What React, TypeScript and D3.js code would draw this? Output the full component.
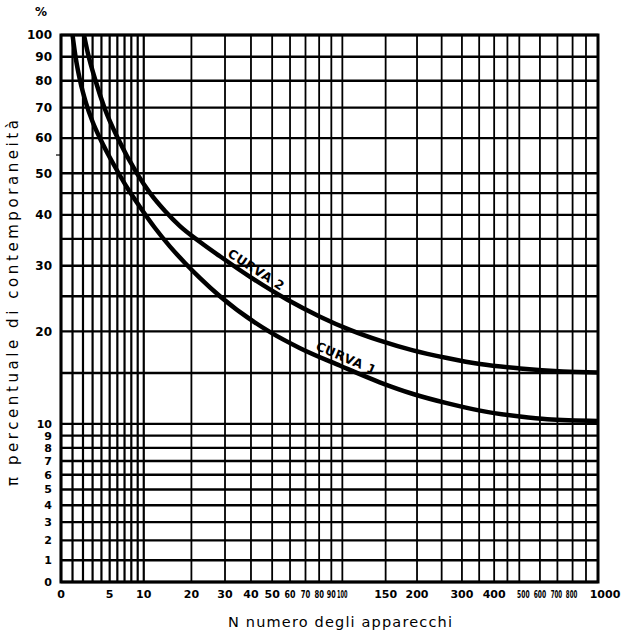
import React from 'react';
import * as d3 from 'd3';

// ---- data ----
const xGrid = [0, 1, 2, 3, 4, 5, 6, 7, 8, 9, 10, 20, 30, 40, 50, 60, 70, 80, 90, 100, 150, 200, 250, 300, 350, 400, 450, 500, 600, 700, 800, 900, 1000];
const yGrid = [0, 1, 2, 3, 4, 5, 6, 7, 8, 9, 10, 15, 20, 25, 30, 35, 40, 45, 50, 60, 70, 80, 90, 100];
const xTickLabels = [0, 5, 10, 20, 30, 40, 50, 60, 70, 80, 90, 100, 150, 200, 300, 400, 500, 600, 700, 800, 1000];
const yTickLabels = [0, 1, 2, 3, 4, 5, 6, 7, 8, 9, 10, 20, 30, 40, 50, 60, 70, 80, 90, 100];

const curve1N = [1, 1.3, 1.7, 2.3, 3, 3.8, 4.8, 6, 7.5, 9.4, 12, 15, 18.4, 22.3, 28.3, 49, 66, 98, 142, 193, 262, 353, 503, 640, 1000];
const curve1V = [100, 89.4, 80.3, 71.7, 65.2, 60.1, 55.2, 50.6, 46, 41.7, 37.2, 33.5, 30.5, 27.9, 25, 19.9, 17.9, 15.8, 14, 12.8, 11.9, 11.2, 10.65, 10.4, 10.25];
const curve2N = [2.1, 2.5, 3.3, 4.4, 6.1, 8.9, 11.1, 14, 17.2, 22.3, 28.3, 39.6, 58.2, 80.7, 107.5, 142.4, 192.8, 262.4, 352.6, 503, 735, 1000];
const curve2V = [100, 91.5, 80.3, 69.6, 59.8, 49.9, 45, 40.8, 37.6, 34.4, 31.7, 28.1, 24.5, 22, 20.2, 18.8, 17.6, 16.7, 16, 15.5, 15.16, 15.04];

const curveLabels = [
  { text: 'CURVA 1', n: 100, series: 1 },
  { text: 'CURVA 2', n: 40, series: 2 },
];

// ---- layout ----
const W = 627, H = 638;
const L = 61, R = 598, T = 35, B = 582;
const X_OFF = 9.5, Y_OFF = 10;

const xs = d3.scaleLog().domain([0 + X_OFF, 1000 + X_OFF]).range([L, R]);
const ys = d3.scaleLog().domain([0 + Y_OFF, 100 + Y_OFF]).range([B, T]);
const fx = (n: number) => xs(n + X_OFF);
const fy = (v: number) => ys(v + Y_OFF);

const X_FONT = 11;
const xLabelDx: Record<number, number> = { 500: 4, 700: -1, 800: -1, 1000: 7 };
// desired label widths (px) for crowded labels
const xLabelLen: Record<number, number> = { 60: 11, 70: 9.5, 80: 9.5, 90: 9, 100: 10.5, 500: 12.5, 600: 12.5, 700: 11.5, 800: 11.5 };

function pts(ns: number[], vs: number[]): [number, number][] {
  return ns.map((n, i) => [fx(n), fy(vs[i])]);
}

export default function App() {
  const line = d3.line<[number, number]>().x(d => d[0]).y(d => d[1]).curve(d3.curveMonotoneX);
  const c1 = pts(curve1N, curve1V);
  const c2 = pts(curve2N, curve2V);

  const labelPos = (p: [number, number][], n: number) => {
    const xp = fx(n);
    const yAt = d3.scaleLinear().domain(p.map(d => d[0])).range(p.map(d => d[1]));
    const y0 = yAt(xp - 20), y1 = yAt(xp + 20);
    const ang = Math.atan2(y1 - y0, 40);
    const yp = yAt(xp);
    const off = 5;
    return { x: xp + Math.sin(ang) * off, y: yp - Math.cos(ang) * off, deg: ang * 180 / Math.PI };
  };

  const font = "'DejaVu Sans', 'Liberation Sans', sans-serif";

  return (
    <svg width={W} height={H} style={{ position: 'absolute', left: 0, top: 0, background: '#fff' }} fontFamily={font}>
      <rect x={0} y={0} width={W} height={H} fill="#fff" />
      <defs>
        <clipPath id="plot">
          <rect x={L} y={T} width={R - L} height={B - T} />
        </clipPath>
      </defs>
      {/* grid */}
      {xGrid.map(n => (
        <line key={'xg' + n} x1={fx(n)} x2={fx(n)} y1={T} y2={B} stroke="#000" strokeWidth={n <= 10 ? 2.2 : 1.8} />
      ))}
      {yGrid.map(v => (
        <line key={'yg' + v} x1={L} x2={R} y1={fy(v)} y2={fy(v)} stroke="#000" strokeWidth={2.4} />
      ))}
      {/* frame */}
      <rect x={L} y={T} width={R - L} height={B - T} fill="none" stroke="#000" strokeWidth={3} />
      {/* small tick at 55 */}
      <line x1={L - 5} x2={L} y1={fy(55)} y2={fy(55)} stroke="#000" strokeWidth={1.2} />
      {/* curves */}
      <g clipPath="url(#plot)">
        <path d={line(c1) || ''} fill="none" stroke="#000" strokeWidth={4.5} strokeLinecap="round" />
        <path d={line(c2) || ''} fill="none" stroke="#000" strokeWidth={4.5} strokeLinecap="round" />
      </g>
      {curveLabels.map(cl => {
        const p = labelPos(cl.series === 1 ? c1 : c2, cl.n);
        return (
          <text key={cl.text} x={p.x} y={p.y} transform={`rotate(${p.deg},${p.x},${p.y})`} textAnchor="middle"
            fontSize={12.5} fontWeight="bold" textLength={64} lengthAdjust="spacing">{cl.text}</text>
        );
      })}
      {/* y tick labels */}
      {yTickLabels.map(v => (
        <text key={'yl' + v} x={52} y={fy(v)} dy="0.36em" textAnchor="end" fontWeight="bold"
          fontSize={v <= 10 ? 11 : 12}>{v}</text>
      ))}
      <text x={41} y={16} textAnchor="middle" fontWeight="bold" fontSize={12}>%</text>
      {/* x tick labels */}
      {xTickLabels.map(n => {
        const s = String(n);
        const cx = fx(n) + (xLabelDx[n] || 0);
        const want = xLabelLen[n];
        const natural = s.length * 0.696 * X_FONT;
        const sx = want ? Math.min(1, want / natural) : 1;
        return (
          <text key={'xl' + n} x={0} y={0} transform={`translate(${cx},598) scale(${sx},1)`} textAnchor="middle"
            fontSize={X_FONT} fontWeight="bold">{s}</text>
        );
      })}
      {/* axis titles */}
      <text x={340} y={627} textAnchor="middle" fontSize={14.5} textLength={224} lengthAdjust="spacing">N  numero degli apparecchi</text>
      <text x={18} y={303} textAnchor="middle" fontSize={15} transform="rotate(-90,18,303)" textLength={366} lengthAdjust="spacing">π percentuale di contemporaneità</text>
    </svg>
  );
}
